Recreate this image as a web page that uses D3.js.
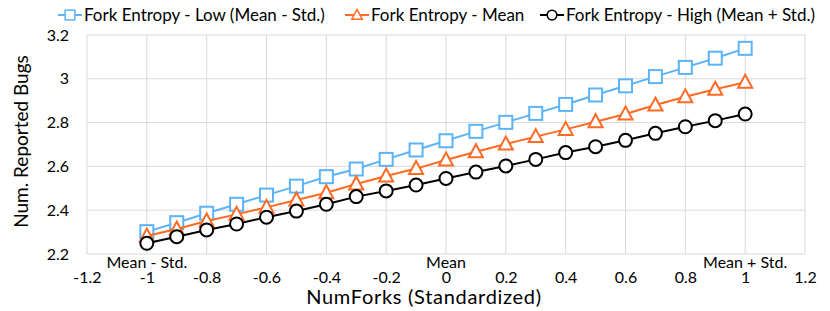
<!DOCTYPE html>
<html>
<head>
<meta charset="utf-8">
<script src="https://cdn.jsdelivr.net/npm/d3@7"></script>
<style>
  body { margin: 0; background: #fff; }
  text { font-family: Lato, "Open Sans", sans-serif; fill: #000; }
</style>
</head>
<body>
<script>
// chart size
var svg_Width = 830;
var svg_Height = 311;
var margin = { top: 35, right: 25, bottom: 57, left: 87 };
var chart_Width = svg_Width - margin.left - margin.right;
var chart_Height = svg_Height - margin.top - margin.bottom;

// data
var numForks = [-1, -0.9, -0.8, -0.7, -0.6, -0.5, -0.4, -0.3, -0.2, -0.1, 0,
                0.1, 0.2, 0.3, 0.4, 0.5, 0.6, 0.7, 0.8, 0.9, 1];
var lowValues = [2.302, 2.343, 2.386, 2.427, 2.469, 2.51, 2.553, 2.588, 2.632, 2.675, 2.717,
                 2.76, 2.801, 2.842, 2.883, 2.926, 2.968, 3.01, 3.052, 3.094, 3.139];
var meanValues = [2.282, 2.314, 2.351, 2.381, 2.413, 2.447, 2.48, 2.52, 2.556, 2.59, 2.629,
                  2.667, 2.702, 2.736, 2.769, 2.804, 2.839, 2.88, 2.918, 2.952, 2.984];
var highValues = [2.249, 2.279, 2.31, 2.337, 2.368, 2.396, 2.427, 2.462, 2.488, 2.515, 2.545,
                  2.574, 2.602, 2.632, 2.663, 2.69, 2.719, 2.751, 2.781, 2.809, 2.839];
var seriesNames = ["Fork Entropy - Low (Mean - Std.)", "Fork Entropy - Mean", "Fork Entropy - High (Mean + Std.)"];
var xTicks = [-1.2, -1, -0.8, -0.6, -0.4, -0.2, 0, 0.2, 0.4, 0.6, 0.8, 1, 1.2];
var yTicks = [2.2, 2.4, 2.6, 2.8, 3, 3.2];
var pointLabels = [{ x: -1, text: "Mean - Std." }, { x: 0, text: "Mean" }, { x: 1, text: "Mean + Std." }];

var colors = ["#5cb4f7", "#ff6a24", "#000000"];
var shapes = ["square", "triangle", "circle"];

var svg = d3.select("body").append("svg")
  .attr("width", svg_Width)
  .attr("height", svg_Height);

var chartGroup = svg.append("g")
  .attr("transform", `translate(${margin.left}, ${margin.top})`);

var x = d3.scaleLinear().domain([-1.2, 1.2]).range([0, chart_Width]);
var y = d3.scaleLinear().domain([2.2, 3.2]).range([chart_Height, 0]);

// grid lines
chartGroup.append("g").selectAll("line.v")
  .data(xTicks).enter().append("line")
  .attr("x1", d => x(d)).attr("x2", d => x(d))
  .attr("y1", 0).attr("y2", chart_Height)
  .attr("stroke", "#d9d9d9").attr("stroke-width", 1);

chartGroup.append("g").selectAll("line.h")
  .data(yTicks).enter().append("line")
  .attr("x1", 0).attr("x2", chart_Width)
  .attr("y1", d => y(d)).attr("y2", d => y(d))
  .attr("stroke", "#d9d9d9").attr("stroke-width", 1);

// axes (only labels shown), plain hyphen for negatives like the original
var bottom_Axis = d3.axisBottom(x).tickValues(xTicks).tickSize(0).tickPadding(18)
  .tickFormat(d => String(+d.toFixed(1)));
var left_Axis = d3.axisLeft(y).tickValues(yTicks).tickSize(0).tickPadding(18)
  .tickFormat(d => String(+d.toFixed(1)));

var gx = chartGroup.append("g")
  .attr("transform", `translate(0, ${chart_Height})`)
  .call(bottom_Axis);
gx.select(".domain").remove();
gx.selectAll("text").style("font-size", "16px").attr("font-family", null);

var gy = chartGroup.append("g").call(left_Axis);
gy.select(".domain").remove();
gy.selectAll("text").style("font-size", "16px").attr("font-family", null);

// series
var seriesData = [lowValues, meanValues, highValues].map(function(vals, i) {
  return numForks.map(function(f, j) { return { x: f, y: vals[j], s: i }; });
});

var line = d3.line().x(d => x(d.x)).y(d => y(d.y));

function drawMarker(sel, shape, color) {
  if (shape === "square") {
    sel.append("rect").attr("x", -6.5).attr("y", -6.5).attr("width", 13).attr("height", 13)
      .attr("fill", "#fff").attr("stroke", color).attr("stroke-width", 2);
  } else if (shape === "triangle") {
    sel.append("path").attr("d", "M0,-7.5L7,5.5L-7,5.5Z")
      .attr("fill", "#fff").attr("stroke", color).attr("stroke-width", 2);
  } else {
    sel.append("circle").attr("r", 6.5)
      .attr("fill", "#fff").attr("stroke", color).attr("stroke-width", 2);
  }
}

seriesData.forEach(function(pts, i) {
  chartGroup.append("path")
    .datum(pts)
    .attr("d", line)
    .attr("fill", "none")
    .attr("stroke", colors[i])
    .attr("stroke-width", 2);

  chartGroup.append("g").selectAll("g")
    .data(pts).enter().append("g")
    .attr("transform", d => `translate(${x(d.x)}, ${y(d.y)})`)
    .each(function() { drawMarker(d3.select(this), shapes[i], colors[i]); });
});

// labels under the points
chartGroup.append("g").selectAll("text")
  .data(pointLabels).enter().append("text")
  .attr("x", d => x(d.x))
  .attr("y", chart_Height + 14)
  .attr("text-anchor", "middle")
  .style("font-size", "16px")
  .text(d => d.text);

// axis titles
svg.append("text")
  .attr("x", 424)
  .attr("y", 304)
  .attr("text-anchor", "middle")
  .style("font-size", "20px")
  .style("letter-spacing", "0.7px")
  .text("NumForks (Standardized)");

svg.append("text")
  .attr("transform", "translate(28, 141.5) rotate(-90)")
  .attr("text-anchor", "middle")
  .style("font-size", "19px")
  .text("Num. Reported Bugs");

// legend
var legendX = [58, 345, 540];
var legend = svg.append("g");
seriesNames.forEach(function(name, i) {
  var g = legend.append("g").attr("transform", `translate(${legendX[i]}, 15)`);
  g.append("line").attr("x1", 0).attr("x2", 24).attr("y1", 0).attr("y2", 0)
    .attr("stroke", colors[i]).attr("stroke-width", 2);
  var m = g.append("g").attr("transform", "translate(12,0) scale(0.75)");
  drawMarker(m, shapes[i], colors[i]);
  g.append("text").attr("x", 26).attr("y", 6)
    .style("font-size", "17px")
    .text(name);
});
</script>
</body>
</html>
